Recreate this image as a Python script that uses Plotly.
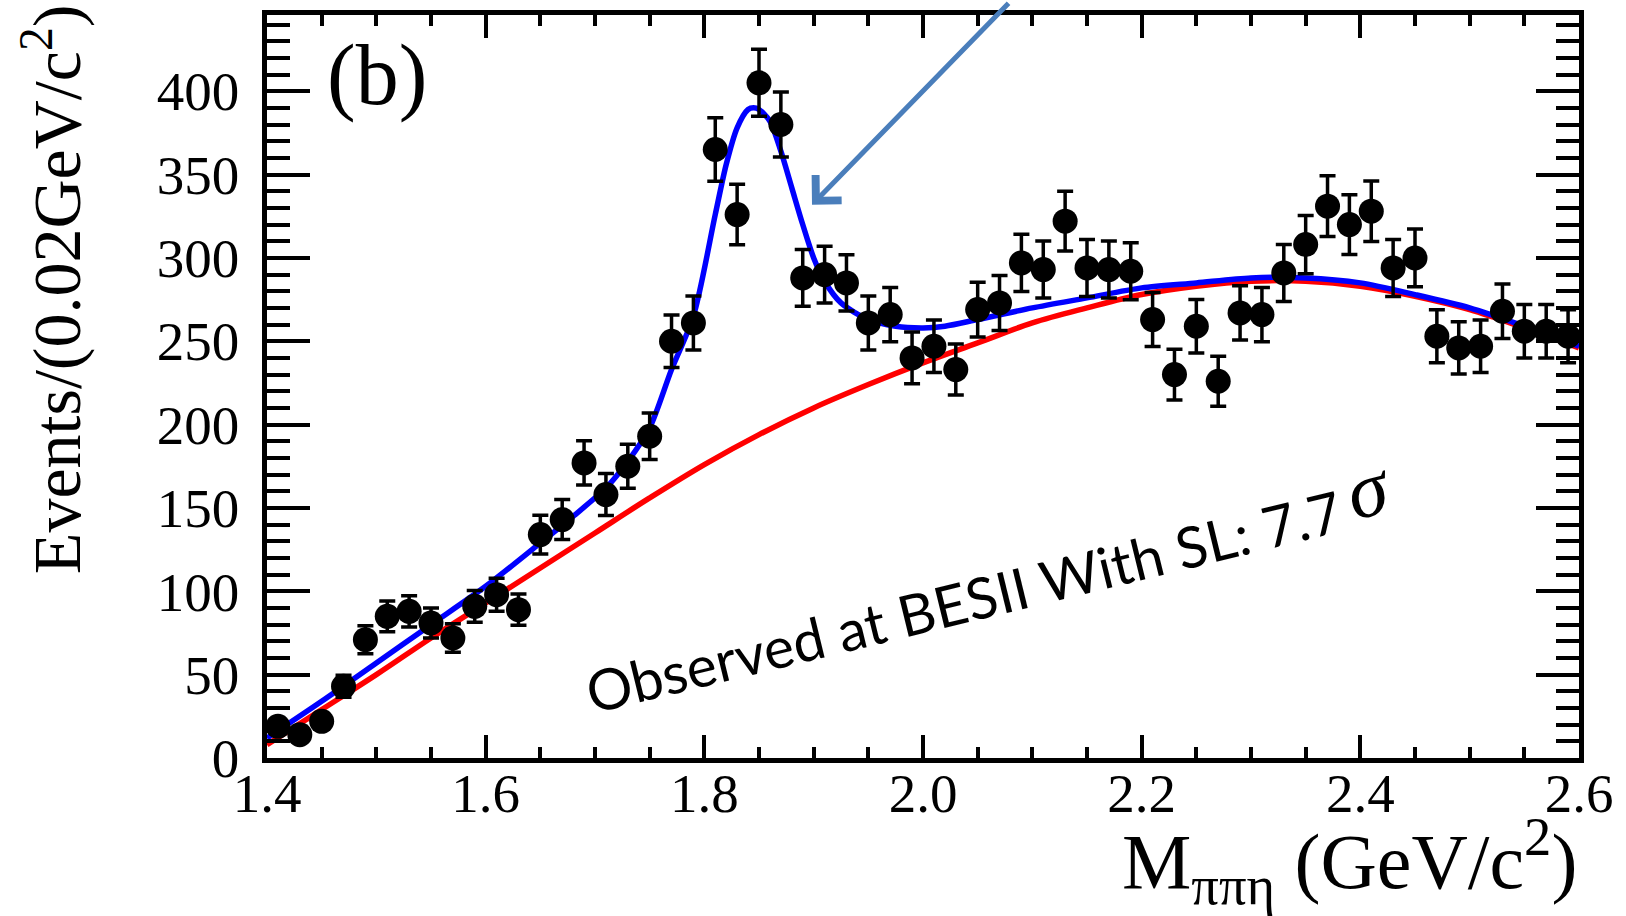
import plotly.graph_objects as go

# ---- data ----
bin_centers = [1.41, 1.43, 1.45, 1.47, 1.49, 1.51, 1.53, 1.55, 1.57, 1.59,
               1.61, 1.63, 1.65, 1.67, 1.69, 1.71, 1.73, 1.75, 1.77, 1.79,
               1.81, 1.83, 1.85, 1.87, 1.89, 1.91, 1.93, 1.95, 1.97, 1.99,
               2.01, 2.03, 2.05, 2.07, 2.09, 2.11, 2.13, 2.15, 2.17, 2.19,
               2.21, 2.23, 2.25, 2.27, 2.29, 2.31, 2.33, 2.35, 2.37, 2.39,
               2.41, 2.43, 2.45, 2.47, 2.49, 2.51, 2.53, 2.55, 2.57, 2.59]
events = [19, 14, 22, 43, 71, 85, 88, 81, 72, 91,
          98, 89, 134, 143, 177, 158, 175, 193, 250, 261,
          365, 326, 405, 380, 288, 290, 285, 261, 266, 240,
          247, 233, 269, 273, 297, 293, 322, 294, 293, 292,
          263, 230, 259, 226, 267, 266, 291, 308, 331, 320,
          328, 294, 300, 253, 246, 247, 268, 256, 256, 253]
event_errors = [4.4, 3.7, 4.7, 6.6, 8.4, 9.2, 9.4, 9.0, 8.5, 9.5,
                9.9, 9.4, 11.6, 12.0, 13.3, 12.6, 13.2, 13.9, 15.8, 16.2,
                19.1, 18.1, 20.1, 19.5, 17.0, 17.0, 16.9, 16.2, 16.3, 15.5,
                15.7, 15.3, 16.4, 16.5, 17.2, 17.1, 17.9, 17.1, 17.1, 17.1,
                16.2, 15.2, 16.1, 15.0, 16.3, 16.3, 17.1, 17.5, 18.2, 17.9,
                18.1, 17.1, 17.3, 15.9, 15.7, 15.7, 16.4, 16.0, 16.0, 15.9]

bkg_x = [1.40, 1.45, 1.50, 1.55, 1.60, 1.65, 1.70, 1.75, 1.80, 1.85, 1.90,
         1.95, 2.00, 2.05, 2.10, 2.15, 2.20, 2.25, 2.30, 2.35, 2.40, 2.45,
         2.50, 2.55, 2.60]
bkg_y = [8, 29, 50, 72, 93, 114, 135, 156, 176, 194, 210,
         224, 237, 249, 261, 270, 278, 283, 286, 286, 283, 277,
         269, 258, 246]

fit_x = [1.40, 1.45, 1.50, 1.55, 1.60, 1.65, 1.68, 1.71, 1.73, 1.75, 1.77,
         1.79, 1.81, 1.82, 1.83, 1.84, 1.845, 1.85, 1.86, 1.87, 1.88, 1.89,
         1.90, 1.91, 1.925, 1.95, 1.975, 2.00, 2.02, 2.05, 2.10, 2.15, 2.20,
         2.25, 2.30, 2.35, 2.40, 2.45, 2.50, 2.55, 2.60]
fit_y = [12, 34, 57, 80, 103, 129, 145, 162, 178, 198, 233,
         265, 326, 356, 378, 389, 390, 389, 382, 364, 342, 320,
         300, 286, 273, 263, 259, 258, 259, 263, 270, 276, 282,
         285, 288, 288, 285, 278, 270, 259, 247]

y_tick_vals = [0, 50, 100, 150, 200, 250, 300, 350, 400]
x_tick_vals = [1.4, 1.6, 1.8, 2.0, 2.2, 2.4, 2.6]
x_tick_text = ["1.4", "1.6", "1.8", "2.0", "2.2", "2.4", "2.6"]

SERIF = "Liberation Serif, Times New Roman, serif"

fig = go.Figure()

fig.add_trace(go.Scatter(
    x=bkg_x, y=bkg_y, mode="lines",
    line=dict(color="#ff0000", width=5.5, shape="spline", smoothing=1.0),
    showlegend=False, hoverinfo="skip"))

fig.add_trace(go.Scatter(
    x=fit_x, y=fit_y, mode="lines",
    line=dict(color="#0000ff", width=5.5, shape="spline", smoothing=0.8),
    showlegend=False, hoverinfo="skip"))

fig.add_trace(go.Scatter(
    x=bin_centers, y=events, mode="markers",
    marker=dict(color="black", size=25, symbol="circle"),
    error_y=dict(type="data", array=event_errors, visible=True,
                 color="black", thickness=3.5, width=8),
    showlegend=False))

axis_common = dict(
    showline=True, linecolor="black", linewidth=4.5, mirror="allticks",
    ticks="inside", tickcolor="black", showgrid=False, zeroline=False,
    tickfont=dict(family=SERIF, size=55, color="black"),
)

fig.update_xaxes(
    range=[1.4, 2.6], tickvals=x_tick_vals, ticktext=x_tick_text,
    ticklen=23, tickwidth=4, ticklabelstandoff=-17,
    minor=dict(dtick=0.05, tick0=1.4, ticklen=11, tickwidth=4,
               ticks="inside", tickcolor="black"),
    **axis_common)

fig.update_yaxes(
    range=[0, 445.7], tickvals=y_tick_vals,
    ticklen=43, tickwidth=4, ticklabelstandoff=12,
    minor=dict(dtick=10, tick0=0, ticklen=23, tickwidth=4,
               ticks="inside", tickcolor="black"),
    **axis_common)

annotations = [
    dict(text="(b)", x=(377 - 267) / 1312, y=(758 - 70) / 748, xref="paper", yref="paper",
         xanchor="center", yanchor="middle",
         showarrow=False, font=dict(family=SERIF, size=86, color="black")),
    dict(text="Events/(0.02GeV/c<sup>2</sup>)", x=(53 - 267) / 1312, y=(758 - 286) / 748,
         xref="paper", yref="paper", textangle=-90, showarrow=False,
         xanchor="center", yanchor="middle",
         font=dict(family=SERIF, size=68, color="black")),
    dict(text="M<sub>ππη</sub> (GeV/c<sup>2</sup>)", x=1.0, y=(758 - 862) / 748,
         xref="paper", yref="paper", xanchor="right", yanchor="middle",
         showarrow=False, font=dict(family=SERIF, size=78, color="black")),
    dict(text="Observed at BESII With SL: 7.7",
         x=(963 - 267) / 1312, y=(758 - 600) / 748, xref="paper", yref="paper",
         xanchor="center", yanchor="middle",
         textangle=-13.7, showarrow=False,
         font=dict(family="Lato, Carlito, Open Sans, sans-serif", size=57, color="black")),
    dict(text="σ",
         x=(1368 - 267) / 1312, y=(758 - 487) / 748, xref="paper", yref="paper",
         xanchor="center", yanchor="middle",
         textangle=-13.7, showarrow=False,
         font=dict(family=SERIF, size=80, style="italic", color="black")),
    dict(text="", x=(812 - 267) / 1312, y=(758 - 201) / 748, xref="paper", yref="paper",
         showarrow=True, ax=198, ay=-203, arrowhead=4, arrowsize=1.4,
         arrowwidth=5, arrowcolor="#4A7EBB", standoff=0),
]

fig.update_layout(
    width=1626, height=916,
    margin=dict(l=267, r=47, t=10, b=158),
    paper_bgcolor="white", plot_bgcolor="white",
    annotations=annotations, showlegend=False,
)

fig.write_html("out.html")
